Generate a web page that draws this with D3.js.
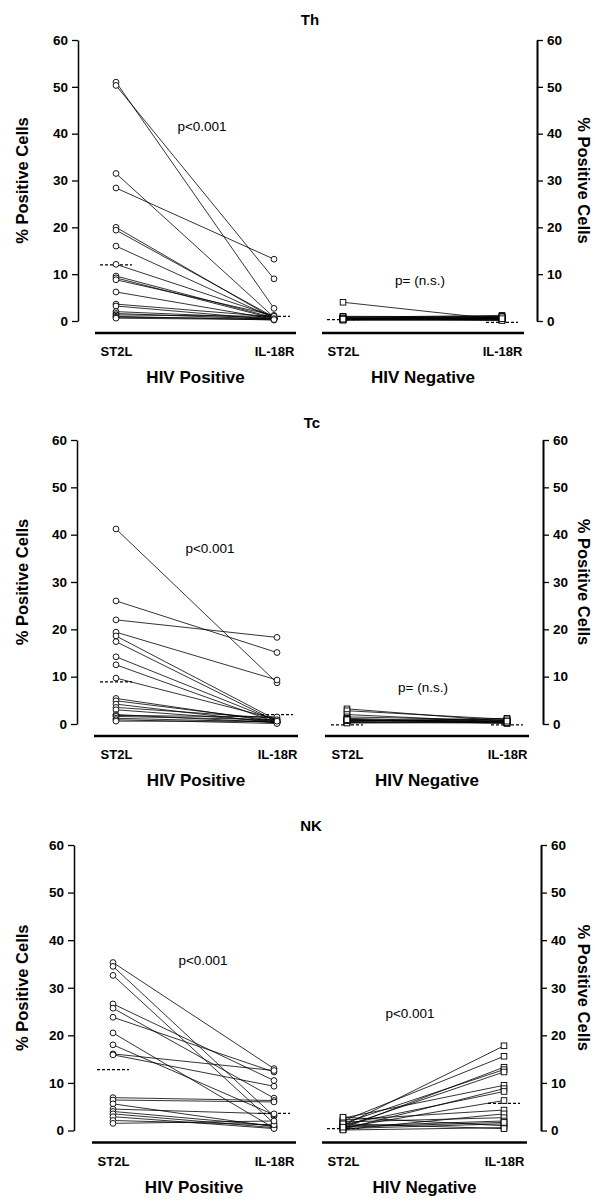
<!DOCTYPE html>
<html>
<head>
<meta charset="utf-8">
<script src="https://cdn.jsdelivr.net/npm/d3@7"></script>
<style>
  body { margin: 0; background: #fff; }
  svg text { font-family: "Liberation Sans", Arial, sans-serif; fill: #000; }
</style>
</head>
<body>
<div id="chart"></div>
<script>
// data
const categories = ["ST2L", "IL-18R"];
const yTicks = [0, 10, 20, 30, 40, 50, 60];
const panelTitles = ["Th", "Tc", "NK"];
const groupLabels = ["HIV Positive", "HIV Negative"];
const pLabels = [["p<0.001", "p= (n.s.)"], ["p<0.001", "p= (n.s.)"], ["p<0.001", "p<0.001"]];

// Th
const thPosST2L = [51.0, 50.3, 31.5, 28.4, 20.0, 19.4, 16.0, 12.1, 9.6, 9.2, 8.8, 6.2, 3.6, 3.2, 2.0, 1.6, 1.3, 1.0, 0.8, 0.6];
const thPosIL18R = [2.7, 9.0, 0.8, 13.2, 0.5, 0.8, 0.6, 1.0, 0.7, 0.5, 1.2, 0.4, 0.9, 0.3, 0.6, 0.4, 1.0, 0.2, 0.5, 0.3];
const thPosMean = [12.0, 1.0];
const thNegST2L = [4.0, 1.0, 0.8, 0.6, 0.5, 0.4, 0.3, 0.2, 0.7, 0.5, 0.3, 0.9, 0.2, 0.6, 0.4];
const thNegIL18R = [0.3, 0.9, 1.2, 0.5, 0.7, 0.3, 0.6, 0.4, 0.2, 1.0, 0.8, 0.6, 0.1, 0.9, 0.5];
const thNegMean = [0.3, -0.3];

// Tc
const tcPosST2L = [41.2, 26.0, 22.0, 19.4, 18.6, 17.4, 14.2, 12.5, 9.7, 5.4, 4.9, 4.2, 3.5, 3.0, 2.0, 1.8, 1.6, 1.2, 0.9, 0.6];
const tcPosIL18R = [8.7, 15.1, 18.3, 9.3, 0.8, 0.5, 0.6, 0.3, 1.0, 0.4, 0.7, 0.2, 1.2, 0.5, 0.3, 1.5, 0.9, 0.4, 0.1, 0.6];
const tcPosMean = [8.9, 2.0];
const tcNegST2L = [3.2, 2.8, 2.0, 1.5, 1.2, 0.8, 0.6, 0.4, 0.3, 1.0, 0.5, 0.2, 0.7, 0.9];
const tcNegIL18R = [0.6, 1.0, 0.4, 0.8, 0.3, 0.5, 1.2, 0.2, 0.7, 0.1, 0.4, 0.3, 0.9, 0.6];
const tcNegMean = [-0.2, -0.2];

// NK
const nkPosST2L = [35.3, 34.5, 32.6, 26.6, 25.7, 23.8, 20.5, 18.0, 16.1, 15.9, 6.9, 6.4, 5.6, 4.5, 4.0, 3.5, 2.9, 2.1, 1.5];
const nkPosIL18R = [13.0, 3.0, 1.5, 10.5, 6.8, 12.3, 0.5, 3.3, 12.6, 9.3, 6.3, 6.0, 0.8, 3.5, 1.0, 0.6, 0.4, 1.2, 2.0];
const nkPosMean = [12.8, 3.6];
const nkNegST2L = [1.0, 2.0, 0.5, 1.5, 0.8, 2.6, 0.3, 1.2, 0.6, 2.2, 0.2, 1.8, 0.9, 0.4, 2.8, 0.1, 1.4, 0.7];
const nkNegIL18R = [17.8, 15.6, 13.3, 12.8, 12.3, 9.5, 8.8, 8.2, 6.3, 4.3, 3.5, 2.7, 2.0, 1.4, 1.0, 0.6, 0.4, 1.7];
const nkNegMean = [0.4, 5.7];

const panelData = [
  [[thPosST2L, thPosIL18R, thPosMean], [thNegST2L, thNegIL18R, thNegMean]],
  [[tcPosST2L, tcPosIL18R, tcPosMean], [tcNegST2L, tcNegIL18R, tcNegMean]],
  [[nkPosST2L, nkPosIL18R, nkPosMean], [nkNegST2L, nkNegIL18R, nkNegMean]]
];

// layout (pixels)
const width = 595, height = 1203;
const rows = [
  { y60: 40, y0: 321, titleX: 310, titleY: 20,
    left: { axisX: 78, x0: 116, x1: 274, b0: 95, b1: 296, pX: 202, pY: 126 },
    right: { axisX: 537, x0: 343, x1: 502, b0: 322, b1: 524, pX: 420, pY: 280 } },
  { y60: 440, y0: 724, titleX: 312, titleY: 423,
    left: { axisX: 77, x0: 116, x1: 277, b0: 94, b1: 298, pX: 210, pY: 548 },
    right: { axisX: 543, x0: 347, x1: 507, b0: 325, b1: 529, pX: 423, pY: 687 } },
  { y60: 845, y0: 1130.5, titleX: 311, titleY: 826,
    left: { axisX: 74, x0: 113, x1: 274, b0: 92, b1: 296, pX: 203, pY: 960 },
    right: { axisX: 541, x0: 343, x1: 504, b0: 322, b1: 527, pX: 410, pY: 1013 } }
];

const svg = d3.select("#chart")
  .append("svg")
  .attr("width", width)
  .attr("height", height);

rows.forEach((row, r) => {
  const y = d3.scaleLinear().domain([0, 60]).range([row.y0, row.y60]);

  svg.append("text")
    .attr("x", row.titleX)
    .attr("y", row.titleY + 5)
    .attr("text-anchor", "middle")
    .style("font-size", "15px")
    .style("font-weight", "bold")
    .text(panelTitles[r]);

  ["left", "right"].forEach((side, s) => {
    const cfg = row[side];
    const [st2l, il18r, means] = panelData[r][s];
    const g = svg.append("g");

    const x = d3.scalePoint().domain(categories).range([cfg.x0, cfg.x1]);

    // y axis
    const axis = (side === "left" ? d3.axisLeft(y) : d3.axisRight(y))
      .tickValues(yTicks)
      .tickSize(6)
      .tickSizeOuter(0)
      .tickPadding(4);
    const ax = g.append("g")
      .attr("transform", `translate(${cfg.axisX},0)`)
      .call(axis);
    ax.select(".domain").attr("stroke-width", side === "left" ? 1.5 : 2);
    ax.selectAll(".tick line").attr("stroke-width", 1.3);
    ax.selectAll(".tick text")
      .style("font-size", "13.5px")
      .style("font-weight", "bold");

    // axis title
    const midY = (row.y0 + row.y60) / 2;
    g.append("text")
      .attr("transform", side === "left"
        ? `translate(22,${midY}) rotate(-90)`
        : `translate(584,${midY}) rotate(90)`)
      .attr("text-anchor", "middle")
      .attr("dy", "0.35em")
      .style("font-size", "16.5px")
      .style("font-weight", "bold")
      .text("% Positive Cells");

    // baseline
    g.append("line")
      .attr("x1", cfg.b0)
      .attr("x2", cfg.b1)
      .attr("y1", row.y0 + 12)
      .attr("y2", row.y0 + 12)
      .attr("stroke", "#000")
      .attr("stroke-width", 2.5);

    // category labels
    const cx = g.append("g")
      .attr("transform", `translate(0,${row.y0 + 12})`)
      .call(d3.axisBottom(x).tickSize(0).tickPadding(14));
    cx.select(".domain").remove();
    cx.selectAll(".tick text")
      .style("font-size", "13px")
      .style("font-weight", "bold");

    // group label
    g.append("text")
      .attr("x", (cfg.b0 + cfg.b1) / 2)
      .attr("y", row.y0 + 62)
      .attr("text-anchor", "middle")
      .style("font-size", "17px")
      .style("font-weight", "bold")
      .text(groupLabels[s]);

    // p value
    g.append("text")
      .attr("x", cfg.pX)
      .attr("y", cfg.pY + 5)
      .attr("text-anchor", "middle")
      .style("font-size", "13.5px")
      .text(pLabels[r][s]);

    // paired lines
    g.selectAll("line.pair")
      .data(d3.zip(st2l, il18r))
      .join("line")
      .attr("class", "pair")
      .attr("x1", x("ST2L"))
      .attr("y1", d => y(d[0]))
      .attr("x2", x("IL-18R"))
      .attr("y2", d => y(d[1]))
      .attr("stroke", "#000")
      .attr("stroke-width", 0.8);

    // mean dashes
    g.selectAll("line.mean")
      .data(means)
      .join("line")
      .attr("class", "mean")
      .attr("x1", (d, i) => x(categories[i]) - 16)
      .attr("x2", (d, i) => x(categories[i]) + 16)
      .attr("y1", d => y(d))
      .attr("y2", d => y(d))
      .attr("stroke", "#000")
      .attr("stroke-width", 1.2)
      .attr("stroke-dasharray", "3,2");

    // markers
    const pts = [];
    st2l.forEach(v => pts.push({ c: "ST2L", v }));
    il18r.forEach(v => pts.push({ c: "IL-18R", v }));

    if (s === 0) {
      g.selectAll("circle.pt")
        .data(pts)
        .join("circle")
        .attr("class", "pt")
        .attr("cx", d => x(d.c))
        .attr("cy", d => y(d.v))
        .attr("r", 2.9)
        .attr("fill", "#fff")
        .attr("stroke", "#000")
        .attr("stroke-width", 0.9);
    } else {
      g.selectAll("rect.pt")
        .data(pts)
        .join("rect")
        .attr("class", "pt")
        .attr("x", d => x(d.c) - 2.8)
        .attr("y", d => y(d.v) - 2.8)
        .attr("width", 5.6)
        .attr("height", 5.6)
        .attr("fill", "#fff")
        .attr("stroke", "#000")
        .attr("stroke-width", 0.9);
    }
  });
});
</script>
</body>
</html>
